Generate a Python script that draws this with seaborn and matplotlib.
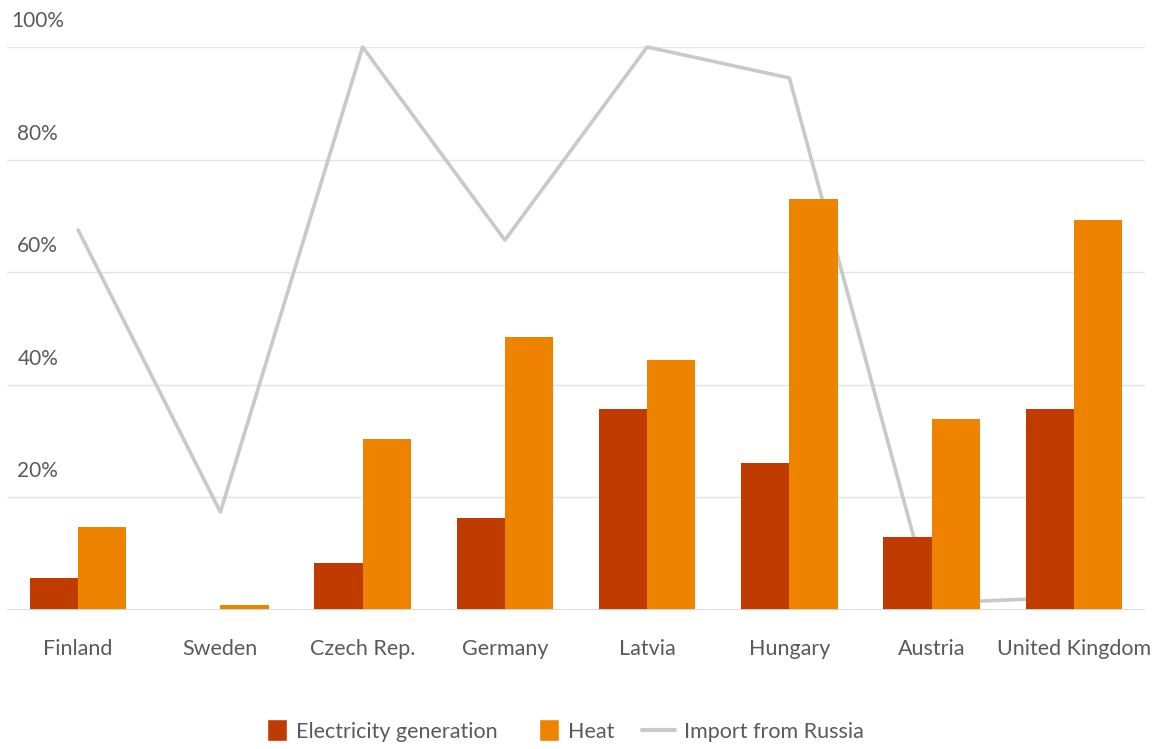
import pandas as pd
import matplotlib
matplotlib.use("Agg")
import matplotlib.pyplot as plt
import matplotlib.transforms as mtransforms
from matplotlib.patches import Patch, Rectangle
from matplotlib.lines import Line2D
from matplotlib.legend_handler import HandlerPatch
import seaborn as sns

countries = ["Finland", "Sweden", "Czech Rep.", "Germany", "Latvia",
             "Hungary", "Austria", "United Kingdom"]
electricity = [5.7, 0.0, 8.3, 16.3, 35.7, 26.1, 13.0, 35.7]
heat = [14.7, 0.9, 30.4, 48.5, 44.4, 73.0, 33.9, 69.3]
import_russia = [67.5, 17.4, 100.0, 65.7, 100.0, 94.5, 1.2, 2.3]
ytick_values = [20, 40, 60, 80, 100]
ytick_labels = ["20%", "40%", "60%", "80%", "100%"]

c_elec = "#BF3B00"
c_heat = "#EE8300"
c_line = "#C9C9C9"
c_text = "#5A5A5A"

sns.set_theme(style="white")
plt.rcParams['font.family'] = ['Lato', 'DejaVu Sans']

df = pd.DataFrame({
    "country": countries * 2,
    "value": electricity + heat,
    "series": ["Electricity generation"] * len(countries) + ["Heat"] * len(countries),
})
df_line = pd.DataFrame({"country": countries, "value": import_russia})

fig = plt.figure(figsize=(11.67, 7.49), dpi=100)
ax = fig.add_axes([7 / 1167, 1 - 610 / 749, 1138 / 1167, 563 / 749])

# import line sits behind the bars
sns.lineplot(data=df_line, x="country", y="value", color=c_line, linewidth=2.6,
             ax=ax, zorder=1, clip_on=False, sort=False)
sns.barplot(data=df, x="country", y="value", hue="series",
            palette=[c_elec, c_heat], width=0.68, saturation=1, linewidth=0,
            ax=ax, zorder=2, legend=False)

ax.set_ylim(0, 100)
ax.set_xlim(-0.5, len(countries) - 0.5)
ax.set_xlabel("")
ax.set_ylabel("")
ax.set_yticks([])
for s in ax.spines.values():
    s.set_visible(False)

for v in ytick_values:
    ax.axhline(v, color="#E3E3E3", linewidth=1.0, zorder=0)
ax.axhline(0, color="#D9D9D9", linewidth=1.3, zorder=3)

# y labels sit above their gridlines
trans = mtransforms.offset_copy(ax.get_yaxis_transform(), fig=fig, x=0, y=26, units="dots")
for v, lab in zip(ytick_values, ytick_labels):
    ax.text(0.027, v, lab, transform=trans, ha="center", va="center",
            fontsize=15, color=c_text)

ax.tick_params(axis="x", length=0, pad=21, labelsize=15.5, labelcolor=c_text)


def tall_rect(legend, orig_handle, xdescent, ydescent, width, height, fontsize):
    w = fontsize * 0.93
    h = fontsize * 1.02
    return Rectangle((xdescent + width - w, ydescent + height / 2 - h / 2), w, h)


handles = [
    Patch(facecolor=c_elec, label="Electricity generation"),
    Patch(facecolor=c_heat, label="Heat"),
    Line2D([0], [0], color=c_line, linewidth=3, label="Import from Russia"),
]
fig.legend(handles=handles, loc="center", bbox_to_anchor=(0.479, 0.023), ncol=3,
           frameon=False, fontsize=15.5, labelcolor=c_text, handlelength=1.55,
           handletextpad=0.4, columnspacing=1.3,
           handler_map={Patch: HandlerPatch(patch_func=tall_rect)})

fig.savefig("out.png", dpi=100)
